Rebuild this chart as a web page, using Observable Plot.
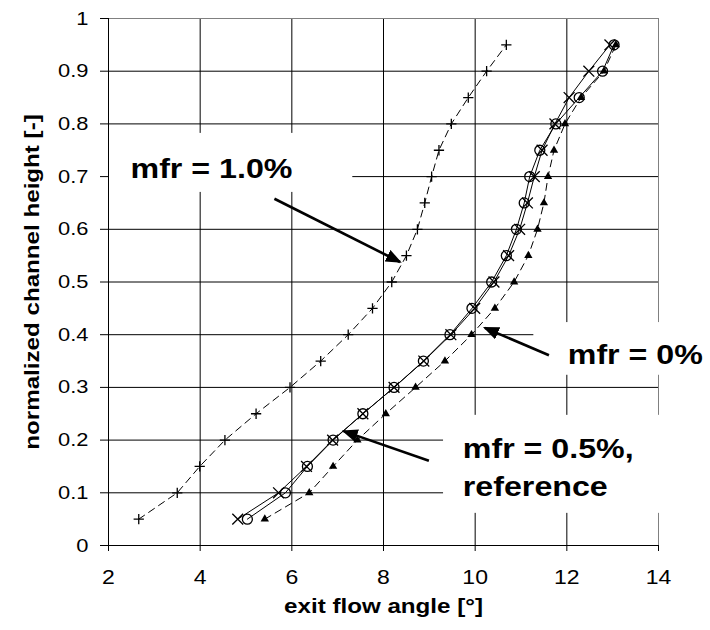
<!DOCTYPE html>
<html><head><meta charset="utf-8">
<script src="https://cdn.jsdelivr.net/npm/d3@7"></script>
<script src="https://cdn.jsdelivr.net/npm/@observablehq/plot@0.6"></script>
<style>
html,body{margin:0;padding:0;background:#fff;}
#chart{width:710px;height:630px;}
</style></head><body><div id="chart"></div>
<script>
// ---- data ----
const heights = [0.05,0.10,0.15,0.20,0.25,0.30,0.35,0.40,0.45,0.50,0.55,0.60,0.65,0.70,0.75,0.80,0.85,0.90,0.95];
const angleMfr10 = [2.66,3.50,3.99,4.54,5.22,5.96,6.63,7.23,7.76,8.18,8.50,8.74,8.90,9.05,9.21,9.48,9.85,10.25,10.68];
const angleMfr05 = [5.03,5.86,6.34,6.90,7.55,8.23,8.87,9.45,9.93,10.36,10.68,10.90,11.07,11.19,11.41,11.76,12.27,12.78,13.03];
const angleRef   = [4.82,5.71,6.32,6.89,7.55,8.23,8.88,9.47,9.99,10.41,10.73,10.97,11.14,11.29,11.46,11.74,12.05,12.48,12.94];
const angleMfr0  = [5.41,6.38,6.90,7.43,8.05,8.70,9.34,9.92,10.43,10.85,11.16,11.36,11.50,11.59,11.72,11.96,12.31,12.81,13.07];

const xTicks = [2,4,6,8,10,12,14];
const yTicks = [0,0.1,0.2,0.3,0.4,0.5,0.6,0.7,0.8,0.9,1];
const yTickLabels = ["0","0.1","0.2","0.3","0.4","0.5","0.6","0.7","0.8","0.9","1"];
const xTitle = "exit flow angle [°]";
const yTitle = "normalized channel height [-]";

// annotation texts (data coordinates)
const annTexts = ["mfr = 1.0%", "mfr = 0%", "mfr = 0.5%,", "reference"];
const annX = [2.48, 12.02, 9.73, 9.73];
const annY = [0.715, 0.362, 0.184, 0.110];
// white boxes behind the annotations
const boxX1 = [2.0, 11.28, 9.31];
const boxX2 = [7.33, 14.9, 14.9];
const boxY1 = [0.670, 0.323, 0.061];
const boxY2 = [0.782, 0.423, 0.247];
// arrows: tail -> tip
const arrX1 = [5.62, 11.61, 8.99];
const arrY1 = [0.658, 0.361, 0.161];
const arrX2 = [8.36, 10.21, 7.13];
const arrY2 = [0.538, 0.413, 0.217];

// ---- tables ----
const rows = xs => xs.map((a, i) => ({angle: a, height: heights[i]}));
const s10 = rows(angleMfr10), s05 = rows(angleMfr05), sRef = rows(angleRef), s0 = rows(angleMfr0);
const texts = annTexts.map((t, i) => ({t, x: annX[i], y: annY[i]}));
const boxes = boxX1.map((x1, i) => ({x1, x2: boxX2[i], y1: boxY1[i], y2: boxY2[i]}));
const arrows = arrX1.map((x1, i) => ({x1, y1: arrY1[i], x2: arrX2[i], y2: arrY2[i]}));

const font = "'Liberation Sans', Arial, Helvetica, sans-serif";
const ARROW_STROKE = "#010101";

const chart = Plot.plot({
  width: 710, height: 630,
  marginLeft: 108, marginRight: 52, marginTop: 18, marginBottom: 85,
  x: {domain: [2, 14]},
  y: {domain: [0, 1]},
  style: {fontFamily: font, fontSize: "19px", color: "black", background: "white", overflow: "visible"},
  marks: [
    Plot.gridX(xTicks.slice(1, -1), {stroke: "#000", strokeOpacity: 1, strokeWidth: 1}),
    Plot.gridY(yTicks.slice(1, -1), {stroke: "#000", strokeOpacity: 1, strokeWidth: 1}),
    Plot.gridX([14], {stroke: "#808080", strokeOpacity: 1}),
    Plot.gridY([1], {stroke: "#808080", strokeOpacity: 1}),
    Plot.rect(boxes, {x1: "x1", x2: "x2", y1: "y1", y2: "y2", fill: "white", clip: false}),
    Plot.ruleX([2], {stroke: "#000"}),
    Plot.ruleY([0], {stroke: "#000"}),
    Plot.axisX(xTicks, {tickSize: 6, tickPadding: 18, fontSize: 20, label: null, stroke: "#000"}),
    Plot.axisY(yTicks, {tickSize: 8, tickPadding: 12, fontSize: 19, label: null, stroke: "#000",
      tickFormat: d => yTickLabels[yTicks.indexOf(d)]}),
    // series lines
    Plot.line(s10, {x: "angle", y: "height", stroke: "#000", strokeWidth: 1, strokeDasharray: "7,5"}),
    Plot.line(s0, {x: "angle", y: "height", stroke: "#000", strokeWidth: 1, strokeDasharray: "7,5"}),
    Plot.line(s05, {x: "angle", y: "height", stroke: "#000", strokeWidth: 1}),
    Plot.line(sRef, {x: "angle", y: "height", stroke: "#000", strokeWidth: 1}),
    // markers
    Plot.dot(s10, {x: "angle", y: "height", symbol: "plus", r: 3.4, stroke: "#000", strokeWidth: 1.3}),
    Plot.dot(s0, {x: "angle", y: "height", symbol: "triangle", r: 3.1, fill: "#000"}),
    Plot.dot(s05, {x: "angle", y: "height", symbol: "circle", r: 5, stroke: "#000", fill: "none", strokeWidth: 1.3}),
    Plot.dot(sRef, {x: "angle", y: "height", symbol: "times", r: 5, stroke: "#000", strokeWidth: 1.3}),
    // annotations
    Plot.link(arrows, {x1: "x1", y1: "y1", x2: "x2", y2: "y2", stroke: ARROW_STROKE, strokeWidth: 2.6}),
    Plot.text(texts, {x: "x", y: "y", text: "t", textAnchor: "start", lineAnchor: "middle", fontSize: 28, fontWeight: "bold", fill: "#000", clip: false}),
    Plot.text([yTitle], {frameAnchor: "left", dx: -76, rotate: -90, textAnchor: "middle", lineAnchor: "middle", fontSize: 21, fontWeight: "bold", fill: "#000"}),
    Plot.text([xTitle], {frameAnchor: "bottom", dy: 61, textAnchor: "middle", lineAnchor: "middle", fontSize: 21, fontWeight: "bold", fill: "#000"})
  ]
});

document.getElementById("chart").appendChild(chart);

// filled arrowheads (Excel style)
const svg = d3.select(chart);
const defs = svg.append("defs");
defs.append("marker")
  .attr("id", "ahead").attr("viewBox", "0 0 16 13")
  .attr("markerUnits", "userSpaceOnUse").attr("markerWidth", 16).attr("markerHeight", 13)
  .attr("refX", 14).attr("refY", 6.5).attr("orient", "auto")
  .append("path").attr("d", "M0,0L16,6.5L0,13Z").attr("fill", "#000");
svg.selectAll("path").filter(function() {
  const own = this.getAttribute("stroke");
  const parent = this.parentNode && this.parentNode.getAttribute && this.parentNode.getAttribute("stroke");
  return own === ARROW_STROKE || parent === ARROW_STROKE;
}).attr("marker-end", "url(#ahead)");

// the reference font renders wider than Arial: stretch text along its direction
svg.selectAll("text").each(function() {
  const len = this.getComputedTextLength();
  if (len > 0) {
    this.setAttribute("textLength", (len * 1.15).toFixed(1));
    this.setAttribute("lengthAdjust", "spacingAndGlyphs");
  }
});
</script>
</body></html>
